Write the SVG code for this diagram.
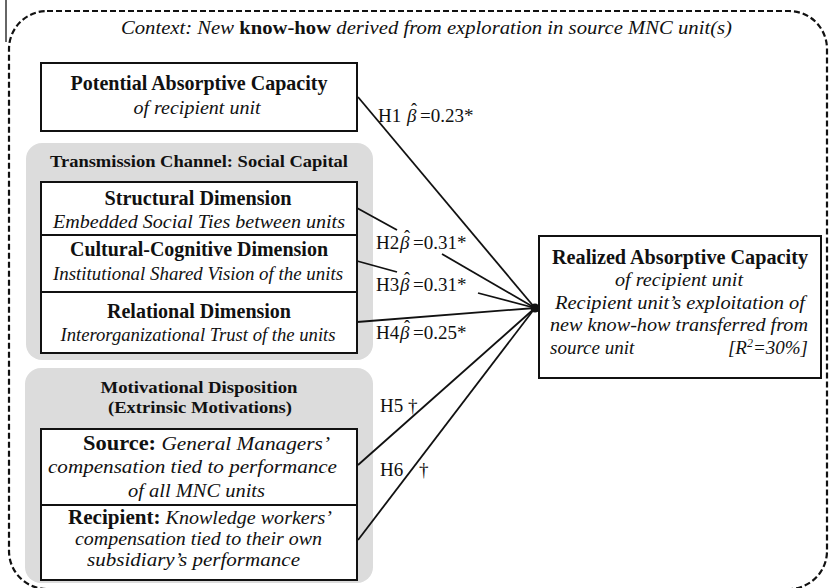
<svg xmlns="http://www.w3.org/2000/svg" width="830" height="588" viewBox="0 0 830 588">
<defs>
<style>
.t{font-family:"Liberation Serif","Times New Roman",serif;fill:#111;}
.b{font-weight:bold;font-size:20px;}
.bs{font-weight:bold;font-size:17px;}
.i{font-style:italic;font-size:19px;}
.lab{font-size:19px;}
.bt{font-style:italic;}
.hat{font-size:18px;}
.box{fill:#fff;stroke:#111;stroke-width:2;}
.grp{fill:#dcdcdc;stroke:none;}
.con{stroke:#111;stroke-width:1.8;fill:none;}
</style>
</defs>
<rect width="830" height="588" fill="#fff"/>
<line x1="6" y1="0" x2="6" y2="42" stroke="#333" stroke-width="1.5"/>
<rect x="9" y="11" width="818" height="578" rx="38" fill="none" stroke="#111" stroke-width="2.2" stroke-dasharray="6 3"/>
<g id="context">
<text class="t i" x="121" y="34" textLength="611" lengthAdjust="spacingAndGlyphs">Context: New <tspan font-weight="bold" font-style="normal">know-how</tspan> derived from exploration in source MNC unit(s)</text>
</g>
<g id="potential">
<rect class="box" x="41" y="63" width="316" height="68"/>
<text class="t b" x="199" y="90" text-anchor="middle" textLength="257" lengthAdjust="spacingAndGlyphs">Potential Absorptive Capacity</text>
<text class="t i" x="197" y="114" text-anchor="middle" textLength="127" lengthAdjust="spacingAndGlyphs">of recipient unit</text>
</g>
<g id="transmission">
<rect class="grp" x="26" y="143" width="347" height="217" rx="16"/>
<text class="t bs" x="199" y="167" text-anchor="middle" textLength="298" lengthAdjust="spacingAndGlyphs">Transmission Channel: Social Capital</text>
</g>
<g id="structural">
<rect class="box" x="41" y="182" width="316" height="53"/>
<text class="t b" x="198" y="205" text-anchor="middle" textLength="187" lengthAdjust="spacingAndGlyphs">Structural Dimension</text>
<text class="t i" x="199" y="228" text-anchor="middle" textLength="292" lengthAdjust="spacingAndGlyphs">Embedded Social Ties between units</text>
</g>
<g id="cultural">
<rect class="box" x="41" y="235" width="316" height="57"/>
<text class="t b" x="199" y="256" text-anchor="middle" textLength="258" lengthAdjust="spacingAndGlyphs">Cultural-Cognitive Dimension</text>
<text class="t i" x="198" y="280" text-anchor="middle" textLength="290" lengthAdjust="spacingAndGlyphs">Institutional Shared Vision of the units</text>
</g>
<g id="relational">
<rect class="box" x="41" y="292" width="316" height="61"/>
<text class="t b" x="199" y="318" text-anchor="middle" textLength="184" lengthAdjust="spacingAndGlyphs">Relational Dimension</text>
<text class="t i" x="198" y="341" text-anchor="middle" textLength="275" lengthAdjust="spacingAndGlyphs">Interorganizational Trust of the units</text>
</g>
<g id="motivational">
<rect class="grp" x="25" y="368" width="348" height="215" rx="16"/>
<text class="t bs" x="199" y="393" text-anchor="middle" textLength="197" lengthAdjust="spacingAndGlyphs">Motivational Disposition</text>
<text class="t bs" x="200" y="413" text-anchor="middle" textLength="184" lengthAdjust="spacingAndGlyphs">(Extrinsic Motivations)</text>
</g>
<g id="source">
<rect class="box" x="41" y="429" width="316" height="76"/>
<text class="t i" x="83" y="450" textLength="247" lengthAdjust="spacingAndGlyphs"><tspan font-weight="bold" font-style="normal" font-size="20px">Source:</tspan> General Managers’</text>
<text class="t i" x="48" y="473" textLength="289" lengthAdjust="spacingAndGlyphs">compensation tied to performance</text>
<text class="t i" x="128" y="497" textLength="137" lengthAdjust="spacingAndGlyphs">of all MNC units</text>
</g>
<g id="recipient">
<rect class="box" x="41" y="505" width="316" height="75"/>
<text class="t i" x="68" y="524" textLength="264" lengthAdjust="spacingAndGlyphs"><tspan font-weight="bold" font-style="normal" font-size="20px">Recipient:</tspan>  Knowledge workers’</text>
<text class="t i" x="75" y="545" textLength="247" lengthAdjust="spacingAndGlyphs">compensation tied to their own</text>
<text class="t i" x="87" y="566" textLength="213" lengthAdjust="spacingAndGlyphs">subsidiary’s performance</text>
</g>
<g id="realized">
<rect class="box" x="539" y="236" width="282" height="142"/>
<text class="t b" x="552" y="264" textLength="256" lengthAdjust="spacingAndGlyphs">Realized Absorptive Capacity</text>
<text class="t i" x="615" y="286" textLength="128" lengthAdjust="spacingAndGlyphs">of recipient unit</text>
<text class="t i" x="555" y="309" textLength="250" lengthAdjust="spacingAndGlyphs">Recipient unit’s exploitation of</text>
<text class="t i" x="550" y="331" textLength="258" lengthAdjust="spacingAndGlyphs">new know-how transferred from</text>
<text class="t i" x="550" y="354">source unit</text>
<text class="t i" x="808" y="354" text-anchor="end" font-style="normal">[<tspan font-style="italic">R</tspan><tspan font-size="12px" dy="-7">2</tspan><tspan dy="7">=30%]</tspan></text>
</g>
<g id="connectors">
<line class="con" x1="358" y1="97" x2="535" y2="308"/>
<line class="con" x1="357" y1="208" x2="397" y2="230"/>
<line class="con" x1="442" y1="254" x2="535" y2="308"/>
<line class="con" x1="357" y1="261" x2="397" y2="272"/>
<line class="con" x1="478" y1="293" x2="535" y2="308"/>
<line class="con" x1="357" y1="322" x2="535" y2="308"/>
<line class="con" x1="358" y1="465" x2="535" y2="308"/>
<line class="con" x1="358" y1="540" x2="535" y2="308"/>
<circle cx="535" cy="308" r="4.5" fill="#111"/>
<text class="t lab" x="378" y="122">H1<tspan class="bt" x="407">β</tspan><tspan class="hat" x="411" dy="-6">ˆ</tspan><tspan x="420" dy="6">=0.23*</tspan></text>
<text class="t lab" x="376" y="249">H2<tspan class="bt" x="400">β</tspan><tspan class="hat" x="404" dy="-6">ˆ</tspan><tspan x="413" dy="6">=0.31*</tspan></text>
<text class="t lab" x="376" y="291">H3<tspan class="bt" x="400">β</tspan><tspan class="hat" x="404" dy="-6">ˆ</tspan><tspan x="413" dy="6">=0.31*</tspan></text>
<text class="t lab" x="376" y="339">H4<tspan class="bt" x="400">β</tspan><tspan class="hat" x="404" dy="-6">ˆ</tspan><tspan x="413" dy="6">=0.25*</tspan></text>
<text class="t lab" x="380" y="412">H5 †</text>
<text class="t lab" x="380" y="476">H6<tspan x="419">†</tspan></text>
</g>
</svg>
